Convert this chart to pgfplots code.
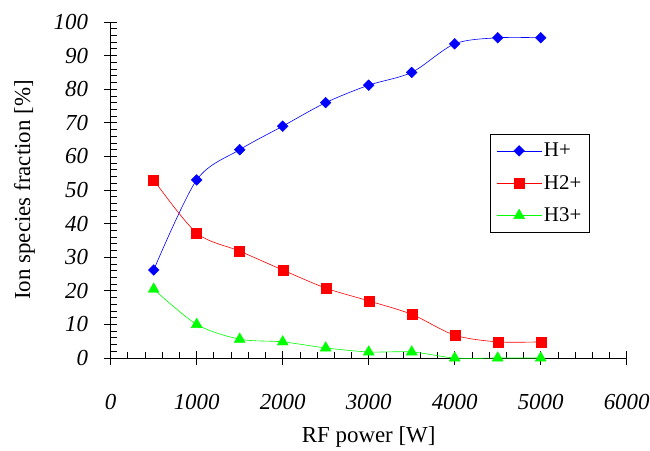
\documentclass[border=0pt]{standalone}
\usepackage{fontspec}
\setmainfont{Liberation Serif}
\usepackage{pgfplots}
\pgfplotsset{compat=1.18}
\begin{document}
\begin{tikzpicture}
\begin{axis}[
  scale only axis,
  width=516bp, height=336bp,
  xmin=0, xmax=6000, ymin=0, ymax=100,
  axis lines=left,
  axis line style={-, black, line width=0.8bp},
  xtick={0,1000,...,6000},
  ytick={0,10,...,100},
  tick align=center,
  major tick length=13bp,
  tick style={black, line width=0.8bp},
  extra x ticks={200,400,600,800,1200,1400,1600,1800,2200,2400,2600,2800,3200,3400,3600,3800,4200,4400,4600,4800,5200,5400,5600,5800},
  extra x tick labels={},
  extra x tick style={tick align=inside, major tick length=6bp},
  extra y ticks={2,4,6,8,12,14,16,18,22,24,26,28,32,34,36,38,42,44,46,48,52,54,56,58,62,64,66,68,72,74,76,78,82,84,86,88,92,94,96,98},
  extra y tick labels={},
  extra y tick style={tick align=inside, major tick length=6bp},
  /pgf/number format/assume math mode=true,
  scaled x ticks=false,
  xticklabel style={font=\fontsize{23}{26}\selectfont\itshape, /pgf/number format/1000 sep={}},
  every y tick label/.append style={font=\fontsize{23}{26}\selectfont\itshape, inner xsep=16bp},
  xticklabel shift=26bp,
  xlabel={RF power [W]},
  ylabel={Ion species fraction [\%]},
  xlabel style={font=\fontsize{23}{26}\selectfont, at={(axis description cs:0.5,-0.235)}, anchor=center},
  ylabel style={font=\fontsize{23}{26}\selectfont, at={(axis description cs:-0.167,0.5)}, anchor=center},
  legend style={at={(axis description cs:0.735,0.667)}, anchor=north west, font=\fontsize{21}{24}\selectfont, draw=black, line width=0.8bp, inner xsep=6bp, inner ysep=7bp, row sep=13bp, legend cell align=left},
  legend image code/.code={\draw[mark repeat=2,mark phase=2] plot coordinates {(0bp,0bp)(22.5bp,0bp)(45bp,0bp)};},
  clip=false,
]
\addplot[blue, line width=0.6bp, smooth, mark=square*, mark size=3.8bp, mark options={solid, fill=blue, line width=0.4bp, rotate=45}] coordinates {
(500,26.2)(1000,53)(1500,62)(2000,69)(2500,76)(3000,81.2)(3500,85)(4000,93.5)(4500,95.3)(5000,95.3)};
\addlegendentry{H+}
\addplot[red, line width=0.6bp, smooth, mark=square*, mark size=5bp, mark options={solid, fill=red, line width=0.4bp}] coordinates {
(500,53)(1000,37.2)(1500,31.8)(2000,26.2)(2500,20.8)(3000,17)(3500,13)(4000,6.8)(4500,4.8)(5000,4.8)};
\addlegendentry{H2+}
\addplot[green, line width=0.6bp, smooth, mark=triangle*, mark size=6.3bp, mark options={solid, fill=green, line width=0.4bp}] coordinates {
(500,20.5)(1000,10)(1500,5.6)(2000,4.8)(2500,3)(3000,1.8)(3500,1.8)(4000,0)(4500,0)(5000,0)};
\addlegendentry{H3+}
\end{axis}
\pgfresetboundingbox
\useasboundingbox (-110.7bp,-93bp) rectangle (539.3bp,358bp);
\end{tikzpicture}
\end{document}
